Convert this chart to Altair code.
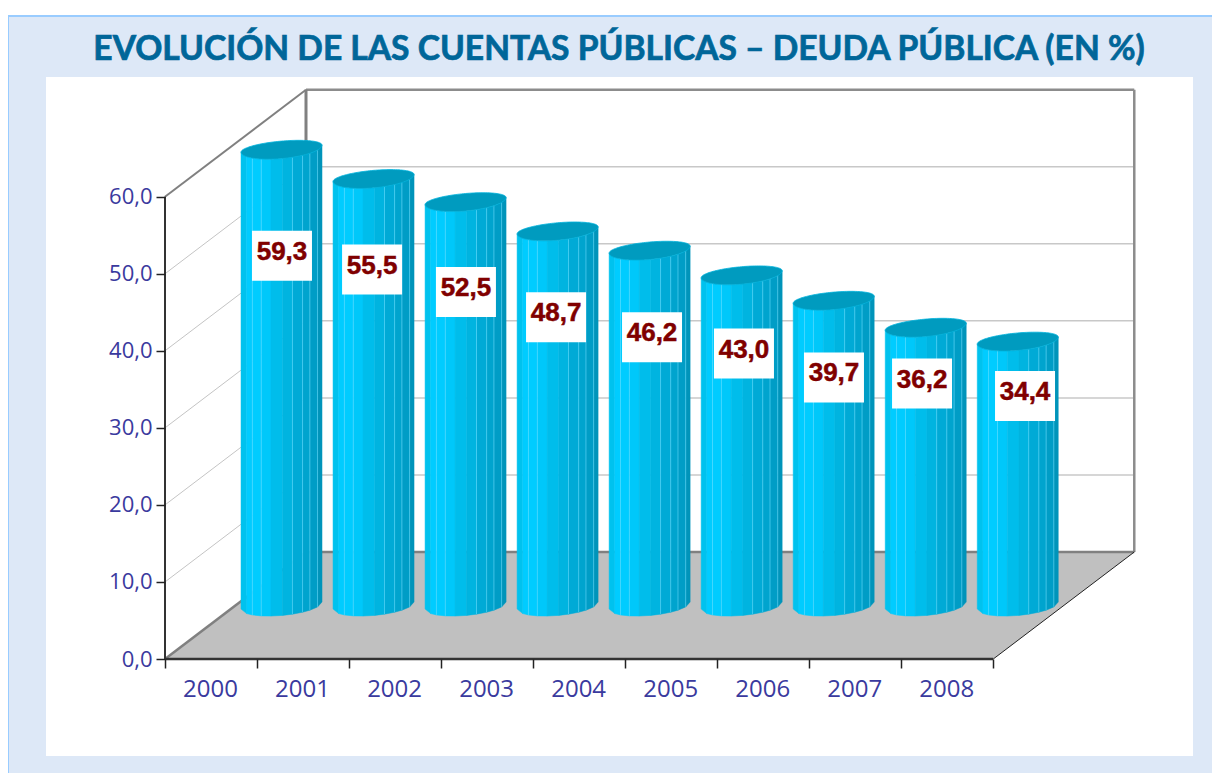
import math
import altair as alt
import pandas as pd

years = [2000, 2001, 2002, 2003, 2004, 2005, 2006, 2007, 2008]
deuda = [59.3, 55.5, 52.5, 48.7, 46.2, 43.0, 39.7, 36.2, 34.4]
label_level = [45.4, 43.6, 40.7, 37.4, 34.8, 32.7, 29.6, 28.8, 27.2]
label_shift = [0.005, -0.016, 0.004, -0.017, 0.026, 0.025, 0.003, -0.040, 0.079]
value_ticks = [0, 10, 20, 30, 40, 50, 60]
titulo = "EVOLUCIÓN DE LAS CUENTAS PÚBLICAS – DEUDA PÚBLICA (EN %)"

# plot geometry: one x unit is a category, one y unit is a value point
PX_X = 92.03
PX_Y = 7.705
VIEW_W, VIEW_H = 970, 570
DX = 141 / PX_X   # depth of the 3D box, in x units
DY = 107 / PX_Y   # depth of the 3D box, in y units
N = len(years)
X_MAX = VIEW_W / PX_X
Y_MAX = VIEW_H / PX_Y
HALF_W = 40.5 / PX_X
TILT = 3.5 / PX_Y
B_FRONT = 10 / PX_Y
B_BACK = 7.5 / PX_Y

facets = [-1, -0.86, -0.72, -0.5, -0.26, 0.03, 0.27, 0.52, 0.7, 0.89, 1]
facet_colors = ["#00C2EE", "#00CCFF", "#00CCFF", "#00C8FA", "#00BDEB",
                "#00B4E0", "#00AAD6", "#00A4CE", "#009DC6", "#0094BA"]
highlights = [-0.72, -0.5, 0.27, 0.52, 0.7, 0.89]


def front(u):
    return TILT * u - B_FRONT * math.sqrt(max(0, 1 - u * u))


def rear(u):
    return TILT * u + B_BACK * math.sqrt(max(0, 1 - u * u))


strips, tops, lights = [], [], []
for i, (yr, v) in enumerate(zip(years, deuda)):
    cx = i + 0.5 + DX / 2
    base = DY / 2
    for j in range(len(facets) - 1):
        for u in (facets[j], facets[j + 1]):
            strips.append({"key": f"{yr}-{j}", "fill": facet_colors[j],
                           "x": cx + u * HALF_W,
                           "y": base + front(u),
                           "y2": base + v + front(u)})
    for k in range(61):
        u = -math.cos(math.pi * k / 60)
        tops.append({"key": str(yr), "x": cx + u * HALF_W,
                     "y": base + v + front(u),
                     "y2": base + v + rear(u)})
    for u in highlights:
        lights.append({"x": cx + u * HALF_W,
                       "y": base + front(u),
                       "y2": base + v + front(u)})

labels = pd.DataFrame({
    "texto": [f"{v:.1f}".replace(".", ",") for v in deuda],
    "cx": [i + 0.5 + DX / 2 + s for i, s in enumerate(label_shift)],
    "cy": [DY / 2 + l for l in label_level],
})
labels["x0"] = labels.cx - 30 / PX_X
labels["x1"] = labels.cx + 30 / PX_X
labels["y0"] = labels.cy - 25 / PX_Y
labels["y1"] = labels.cy + 25 / PX_Y

grid = []
for t in value_ticks[1:-1]:
    grid.append(dict(x=0, y=t, x2=DX, y2=DY + t, c="#C4C4C4", w=1))
    grid.append(dict(x=DX, y=DY + t, x2=N + DX, y2=DY + t, c="#C8C8C8", w=1.5))
frame = [
    dict(x=0, y=60, x2=DX, y2=DY + 60, c="#808080", w=2),
    dict(x=DX, y=DY + 60, x2=N + DX, y2=DY + 60, c="#8C8C8C", w=2.5),
    dict(x=DX, y=DY, x2=DX, y2=DY + 60, c="#808080", w=3),
    dict(x=N + DX, y=DY, x2=N + DX, y2=DY + 60, c="#8C8C8C", w=2.5),
    dict(x=0, y=0, x2=DX, y2=DY, c="#808080", w=2.5),
    dict(x=DX, y=DY, x2=N + DX, y2=DY, c="#808080", w=2.5),
    dict(x=N, y=0, x2=N + DX, y2=DY, c="#222222", w=1),
    dict(x=0, y=0, x2=N, y2=0, c="#333333", w=2.5),
    dict(x=0, y=0, x2=0, y2=60, c="#333333", w=2),
]

floor = pd.DataFrame({
    "x": [0, DX, N, N + DX],
    "y": [0, DY, DY, DY],
    "y2": [0, 0, 0, DY],
})

axis_style = dict(labelFont="Open Sans", labelColor="#3A3A9E",
                  tickColor="#222222", tickWidth=1.5, tickSize=9, domain=False,
                  grid=False, title=None, zindex=1)
XAX = alt.Axis(values=list(range(N + 1)),
               labelExpr=f"datum.value < {N} ? '' + (2000 + datum.value) : ''",
               labelFontSize=24, labelOffset=PX_X / 2 - 1, labelPadding=9,
               labelFlush=False, **axis_style)
YAX = alt.Axis(values=value_ticks,
               labelExpr="replace(format(datum.value, '.1f'), '.', ',')",
               labelFontSize=22, labelPadding=4, **axis_style)
X = alt.Scale(domain=[0, X_MAX], nice=False, zero=False)
Y = alt.Scale(domain=[0, Y_MAX], nice=False, zero=False)


def ex(f):
    return alt.X(f + ":Q", scale=X, axis=XAX)


def ey(f):
    return alt.Y(f + ":Q", scale=Y, axis=YAX)


one = pd.DataFrame({"a": [0]})

LEFT, TOP = 157, 81
TOTAL_W, TOTAL_H = 1204, 765

back = alt.Chart(one).mark_rect(fill="#DDE8F7", stroke="#99CCFF", strokeWidth=2).encode(
    x=alt.value(-LEFT), x2=alt.value(TOTAL_W - LEFT + 6),
    y=alt.value(8 - TOP), y2=alt.value(TOTAL_H - TOP + 6))
panel = alt.Chart(one).mark_rect(fill="#FFFFFF").encode(
    x=alt.value(46 - 8 - LEFT), x2=alt.value(1193 - 8 - LEFT),
    y=alt.value(77 - 8 - TOP), y2=alt.value(756 - 8 - TOP))

title_layer = alt.Chart(pd.DataFrame({"t": [titulo]})).mark_text(
    font="Lato", fontWeight="bold", fontSize=33.6, color="#006699",
    stroke="#006699", strokeWidth=0.7,
    align="center", baseline="alphabetic").encode(
    x=alt.value(619 - 8 - LEFT), y=alt.value(60 - 8 - TOP), text="t:N")

grid_layer = alt.Chart(pd.DataFrame(grid)).mark_rule().encode(
    x=ex("x"), x2="x2:Q", y=ey("y"), y2="y2:Q",
    color=alt.Color("c:N", scale=None), size=alt.Size("w:Q", scale=None))

floor_layer = alt.Chart(floor).mark_area(color="#C0C0C0", orient="vertical").encode(
    x=ex("x"), y=ey("y"), y2="y2:Q")

frame_layer = alt.Chart(pd.DataFrame(frame)).mark_rule().encode(
    x=ex("x"), x2="x2:Q", y=ey("y"), y2="y2:Q",
    color=alt.Color("c:N", scale=None), size=alt.Size("w:Q", scale=None))

strip_layer = alt.Chart(pd.DataFrame(strips)).mark_area(orient="vertical", strokeWidth=0.5).encode(
    x=ex("x"), y=ey("y"), y2="y2:Q",
    color=alt.Color("fill:N", scale=None),
    stroke=alt.Stroke("fill:N", scale=None),
    detail="key:N")

light_layer = alt.Chart(pd.DataFrame(lights)).mark_rule(
    color="#66DDFF", strokeWidth=1, opacity=0.6).encode(
    x=ex("x"), y=ey("y"), y2="y2:Q")

top_layer = alt.Chart(pd.DataFrame(tops)).mark_area(
    orient="vertical", color="#009BBF", stroke="#00B2DC", strokeWidth=0.8).encode(
    x=ex("x"), y=ey("y"), y2="y2:Q", detail="key:N")

box_layer = alt.Chart(labels).mark_rect(fill="#FFFFFF").encode(
    x=ex("x0"), x2="x1:Q", y=ey("y0"), y2="y1:Q")

text_layer = alt.Chart(labels).mark_text(
    font="Liberation Sans", fontWeight="bold", fontSize=26, color="#800000",
    stroke="#800000", strokeWidth=0.5,
    baseline="middle", align="center", dy=-4).encode(
    x=ex("cx"), y=ey("cy"), text="texto:N")

chart = alt.layer(
    back, panel, title_layer, grid_layer, floor_layer, frame_layer,
    strip_layer, light_layer, top_layer, box_layer, text_layer,
).properties(
    width=VIEW_W, height=VIEW_H,
    padding={"left": LEFT, "top": TOP, "right": TOTAL_W - LEFT - VIEW_W,
             "bottom": TOTAL_H - TOP - VIEW_H},
    autosize=alt.AutoSizeParams(type="none"),
    background="#FFFFFF",
).configure_view(stroke=None)

chart.save("out.html", embed_options={"renderer": "svg", "actions": False})
